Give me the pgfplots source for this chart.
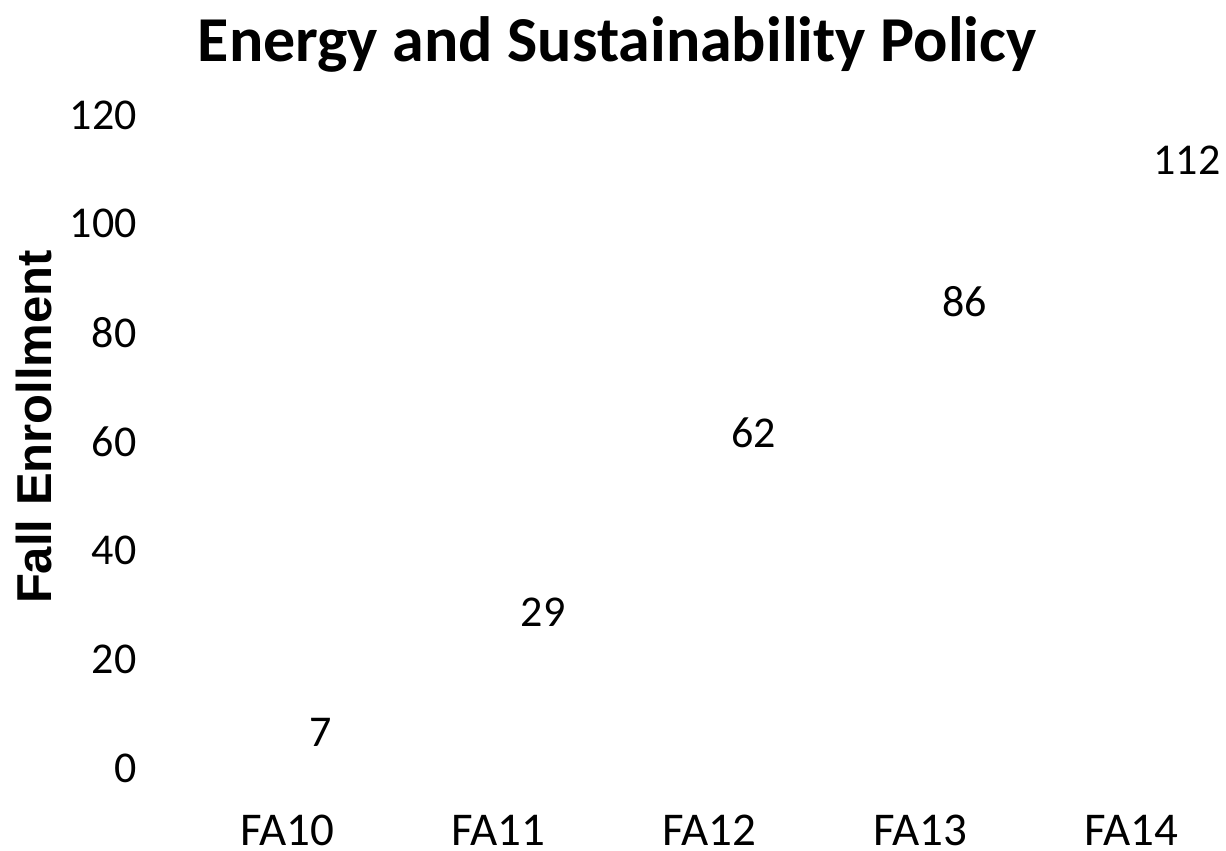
\documentclass[border=0pt]{standalone}
\usepackage{pgfplots}
\pgfplotsset{compat=1.18}
\usepackage{fontspec}
\setmainfont{Carlito}
\newfontfamily\arialbf{Liberation Sans}[BoldFont={* Bold}]
\begin{document}
\begin{tikzpicture}
\useasboundingbox (-91pt,-41.5pt) rectangle (522pt,384pt);
\begin{axis}[
  at={(0,0)}, anchor=south west,
  scale only axis,
  width=522pt, height=326.5pt,
  xmin=-0.5, xmax=4.45,
  ymin=0, ymax=120,
  axis line style={draw=none},
  major tick length=0pt,
  xtick={0,1,2,3,4},
  xticklabels={FA10,FA11,FA12,FA13,FA14},
  ytick={0,20,40,60,80,100,120},
  yticklabel style={font=\fontsize{22}{26}\selectfont, anchor=east, inner sep=0pt, xshift=-22.5pt},
  xticklabel style={font=\fontsize{23.5}{28}\selectfont, anchor=base, inner sep=0pt, yshift=-38.5pt},
  /pgf/number format/assume math mode=true,
  clip=false,
  nodes near coords,
  every node near coord/.append style={anchor=west, inner sep=0pt, xshift=11pt, yshift=-1pt, font=\fontsize{22}{26}\selectfont, text=black},
]
\addplot[draw=none, mark=none] coordinates {(0,7) (1,29) (2,62) (3,86) (4,112)};
\end{axis}
\node[anchor=base, font=\fontsize{32}{38}\selectfont\bfseries] at (217.5pt,353pt) {Energy and Sustainability Policy};
\node[anchor=base, rotate=90, font=\fontsize{24.5}{28}\selectfont\arialbf\bfseries] at (-65pt,170.5pt) {Fall Enrollment};
\end{tikzpicture}
\end{document}
